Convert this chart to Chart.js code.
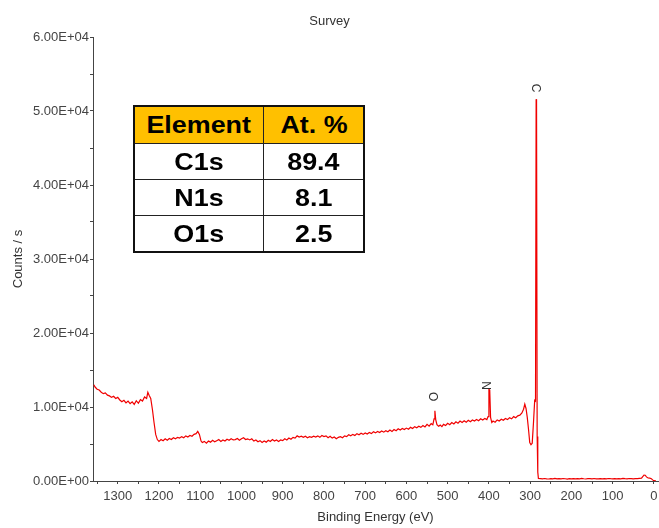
<!DOCTYPE html>
<html>
<head>
<meta charset="utf-8">
<script src="https://cdn.jsdelivr.net/npm/chart.js@4.4.1/dist/chart.umd.min.js"></script>
<style>
  html, body { margin: 0; padding: 0; background: #fff; }
  #wrap { position: relative; width: 659px; height: 528px; }
  #survey { position: absolute; left: 0; top: 0; }
  #atoms {
    position: absolute; left: 133px; top: 105px;
    border-collapse: collapse; border: 2px solid #111;
    font-family: "Liberation Sans", Arial, sans-serif;
    font-weight: bold; font-size: 24px; color: #000;
  }
  #atoms td { border: 1px solid #222; text-align: center; padding: 0; height: 35px; }
  #atoms tr.head td { background: #ffc000; height: 36px; }
  #atoms td.el { width: 128px; }
  #atoms td.pc { width: 99px; }
  #atoms span { display: inline-block; transform: scaleX(1.12); }
</style>
</head>
<body>
<div id="wrap">
  <canvas id="survey" width="659" height="528"></canvas>
  <table id="atoms"></table>
</div>
<script>
// survey spectrum (binding energy in eV, counts/s)
const energies = [
  1358, 1355, 1350, 1345, 1340, 1335, 1330, 1325, 1320, 1315, 1310, 1305, 1300,
  1295, 1290, 1285, 1280, 1275, 1270, 1265, 1260, 1255, 1250, 1245, 1240, 1235,
  1230, 1227, 1224, 1220, 1216, 1212, 1208, 1204, 1200, 1195, 1190, 1185, 1180,
  1175, 1170, 1165, 1160, 1155, 1150, 1145, 1140, 1135, 1130, 1125, 1120, 1115,
  1110, 1106, 1102, 1098, 1095, 1090, 1085, 1080, 1075, 1070, 1065, 1060, 1055,
  1050, 1045, 1040, 1035, 1030, 1025, 1020, 1015, 1010, 1005, 1000, 995, 990,
  985, 980, 975, 970, 965, 960, 955, 950, 945, 940, 935, 930, 925, 920,
  915, 910, 905, 900, 895, 890, 885, 880, 875, 870, 865, 860, 855, 850,
  845, 840, 835, 830, 825, 820, 815, 810, 805, 800, 795, 790, 785, 780,
  775, 770, 765, 760, 755, 750, 745, 740, 735, 730, 725, 720, 715, 710,
  705, 700, 695, 690, 685, 680, 675, 670, 665, 660, 655, 650, 645, 640,
  635, 630, 625, 620, 615, 610, 605, 600, 595, 590, 585, 580, 575, 570,
  565, 560, 555, 550, 545, 540, 536, 533, 531, 529, 526, 522, 518, 514,
  510, 505, 500, 495, 490, 485, 480, 475, 470, 465, 460, 455, 450, 445,
  440, 435, 430, 425, 420, 415, 410, 405, 402, 400, 398, 396, 393, 390,
  385, 380, 375, 370, 365, 360, 355, 350, 345, 340, 335, 330, 325, 320,
  316, 313, 310, 307, 304, 301, 298, 295, 292, 289, 287, 285.5, 284.5, 283,
  282, 281, 280, 275, 270, 265, 260, 255, 250, 245, 240, 235, 230, 225,
  220, 215, 210, 205, 200, 195, 190, 185, 180, 175, 170, 165, 160, 155,
  150, 145, 140, 135, 130, 125, 120, 115, 110, 105, 100, 95, 90, 85,
  80, 75, 70, 65, 60, 55, 50, 45, 40, 35, 30, 27, 24, 21,
  18, 14, 10, 6, 3, 0, -5
];
const counts = [
  13000, 12700, 12400, 12300, 12000, 11800, 11900, 11600, 11500, 11300, 11450, 11150, 11300,
  10950, 10700, 10900, 10550, 10800, 10450, 10700, 10350, 10850, 10500, 11000, 10800, 11350,
  11150, 12000, 11600, 11150, 9700, 7900, 6300, 5600, 5350, 5600, 5450, 5700, 5500,
  5750, 5600, 5850, 5700, 5900, 5800, 6000, 5850, 6100, 5950, 6150, 6050, 6300,
  6400, 6700, 6300, 5400, 5200, 5350, 5100, 5400, 5250, 5500, 5300, 5450, 5600,
  5350, 5550, 5400, 5650, 5500, 5700, 5550, 5600, 5750, 5500, 5700, 5850, 5600,
  5700, 5550, 5700, 5400, 5550, 5300, 5450, 5200, 5400, 5250, 5500, 5350, 5600, 5400,
  5550, 5350, 5550, 5450, 5700, 5550, 5800, 5650, 5900, 5800, 6100, 5950, 6050, 5900,
  6050, 5850, 6000, 5900, 6050, 5950, 6100, 5900, 6150, 6000, 6100, 5850, 6050, 5800,
  5950, 5700, 5900, 6000, 5850, 6100, 6000, 6250, 6100, 6300, 6150, 6400, 6250, 6450,
  6300, 6500, 6350, 6550, 6400, 6650, 6500, 6700, 6550, 6750, 6600, 6800, 6650, 6900,
  6700, 6950, 6800, 7050, 6900, 7100, 6950, 7150, 7000, 7250, 7100, 7350, 7200, 7400,
  7250, 7500, 7300, 7650, 7400, 7750, 7600, 8400, 9500, 8300, 7600, 7400, 7550, 7350,
  7650, 7500, 7800, 7600, 7900, 7700, 8000, 7800, 8100, 7900, 8150, 7950, 8200, 8000,
  8250, 8100, 8300, 8150, 8400, 8250, 8450, 8300, 8700, 12400, 12300, 8600, 7900, 8100,
  7950, 8250, 8100, 8350, 8200, 8450, 8300, 8550, 8400, 8700, 8550, 8800, 8900, 9200,
  9700, 10400, 9800, 8600, 7000, 5200, 4900, 5100, 7800, 10900, 10800, 51600, 51000, 6000,
  5400, 1200, 350, 320, 290, 340, 300, 270, 330, 300, 350, 280, 310, 290,
  340, 300, 260, 320, 300, 330, 280, 310, 290, 350, 300, 270, 320, 310,
  290, 340, 300, 280, 330, 300, 320, 290, 340, 310, 300, 330, 280, 320,
  300, 350, 310, 290, 340, 320, 300, 330, 310, 350, 380, 600, 800, 780,
  550, 400, 380, 300, 150, 40, 20
];

// tick positions on the energy axis (labels only every 100 eV)
const xTicks = [
  0, 50, 100, 150, 200, 250, 300, 350, 400, 450, 500, 550, 600, 650,
  700, 750, 800, 850, 900, 950, 1000, 1050, 1100, 1150, 1200, 1250, 1300, 1350
];

// peak markers
const peakNames = ['C', 'N', 'O'];
const peakEnergies = [287, 409, 538];
const peakLabelCounts = [53100, 12900, 11400];

// quantification table
const elements = ['C1s', 'N1s', 'O1s'];
const atPercent = [89.4, 8.1, 2.5];

const table = document.getElementById('atoms');
table.innerHTML = '<tr class="head"><td class="el"><span>Element</span></td><td class="pc"><span>At. %</span></td></tr>' +
  elements.map((e, i) => '<tr><td class="el"><span>' + e + '</span></td><td class="pc"><span>' + atPercent[i].toFixed(1) + '</span></td></tr>').join('');

const fontFam = '"Liberation Sans", Arial, sans-serif';

function sci(v) {
  let [m, e] = Number(v).toExponential(2).split('e');
  let sign = e[0];
  let digits = e.slice(1).padStart(2, '0');
  return m + 'E' + sign + digits;
}

const textPlugin = {
  id: 'surveyText',
  afterDraw(chart) {
    const { ctx, chartArea, scales } = chart;
    ctx.save();
    ctx.fillStyle = '#333';
    ctx.font = '13px ' + fontFam;
    ctx.textAlign = 'center';
    ctx.textBaseline = 'middle';
    ctx.fillText('Survey', chart.width / 2, 21);
    ctx.fillText('Binding Energy (eV)', (chartArea.left + chartArea.right) / 2, 517);
    ctx.save();
    ctx.translate(18, (chartArea.top + chartArea.bottom) / 2);
    ctx.rotate(-Math.PI / 2);
    ctx.fillText('Counts / s', 0, 0);
    ctx.restore();

    ctx.font = '12px ' + fontFam;
    peakNames.forEach((n, i) => {
      const x = scales.x.getPixelForValue(peakEnergies[i]);
      const y = scales.y.getPixelForValue(peakLabelCounts[i]);
      ctx.save();
      ctx.translate(x, y);
      ctx.rotate(Math.PI / 2);
      ctx.fillText(n, 0, 0);
      ctx.restore();
    });
    ctx.restore();
  }
};

new Chart(document.getElementById('survey'), {
  type: 'line',
  data: {
    datasets: [{
      data: energies.map((e, i) => ({ x: e, y: counts[i] })),
      borderColor: 'rgb(240, 0, 0)',
      borderWidth: 1.2,
      pointRadius: 0,
      tension: 0
    }]
  },
  options: {
    responsive: false,
    animation: false,
    layout: { padding: { top: 37, right: 1, left: 0, bottom: 0 } },
    plugins: {
      legend: { display: false },
      tooltip: { enabled: false }
    },
    scales: {
      x: {
        type: 'linear',
        reverse: true,
        min: -10,
        max: 1360,
        afterBuildTicks: s => { s.ticks = xTicks.map(v => ({ value: v })); },
        afterFit: s => { s.height = 47; },
        grid: { drawOnChartArea: false, tickLength: 3, color: '#444' },
        border: { color: '#444' },
        ticks: {
          autoSkip: false,
          maxRotation: 0,
          padding: 5,
          color: '#444',
          font: { size: 13, family: fontFam },
          callback: v => (v % 100 === 0 ? String(v) : '')
        }
      },
      y: {
        min: 0,
        max: 60000,
        afterFit: s => { s.width = 93; },
        grid: { drawOnChartArea: false, tickLength: 3, color: '#444' },
        border: { color: '#444' },
        ticks: {
          stepSize: 5000,
          autoSkip: false,
          padding: 1,
          color: '#444',
          font: { size: 13, family: fontFam },
          callback: v => (v % 10000 === 0 ? sci(v) : '')
        }
      }
    }
  },
  plugins: [textPlugin]
});
</script>
</body>
</html>
